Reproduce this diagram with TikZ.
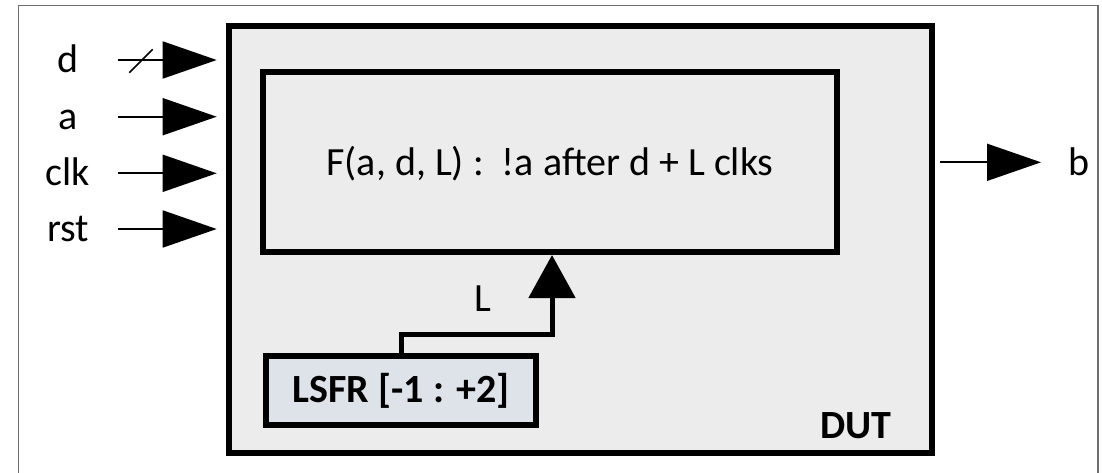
\documentclass[tikz,border=0pt]{standalone}
\usepackage{fontspec}
\setmainfont{Carlito}
\usetikzlibrary{arrows.meta,calc}
\definecolor{dutgray}{HTML}{ECECEC}
\definecolor{lsfrblue}{HTML}{DEE3EA}
\definecolor{framegray}{HTML}{6E6E6E}
\tikzset{
  sig/.style={font=\fontsize{40}{48}\selectfont, anchor=base, inner sep=0pt},
  wire/.style={line width=1.8pt, -{Triangle[length=54pt,width=37pt]}},
  bus/.style={line width=5pt, -{Triangle[length=43pt,width=46pt]}},
  block/.style={draw, line width=6pt, fill=dutgray, inner sep=0pt},
}
\begin{document}
\begin{tikzpicture}[x=1pt,y=-1pt]
\useasboundingbox (0,0) rectangle (1102,472);

% outer frame (open at the bottom edge of the page)
\draw[framegray, line width=1.6pt] (18.3,480) -- (18.3,5.5) -- (1097.7,5.5) -- (1097.7,480);

% design under test and its inner blocks
\node[block, minimum width=703pt, minimum height=427pt] (dut) at (580.5,239.5) {};
\node[block, minimum width=574pt, minimum height=180pt,
      text height=27pt, text depth=0pt,
      font=\fontsize{40}{48}\selectfont] (fbox) at (550,162)
      {F(a, d, L) :\ \ !a after d + L clks};
\node[block, fill=lsfrblue, minimum width=270pt, minimum height=69pt,
      font=\fontsize{40}{48}\selectfont\bfseries] (lsfr) at (401,390.5)
      {LSFR [-1 : +2]};
\node[sig, font=\fontsize{40}{48}\selectfont\bfseries] (dutlbl) at (856,438) {DUT};

% inputs
\foreach \n/\y in {d/60, a/116.7, clk/173.3, rst/229} {
  \node[sig] (lbl-\n) at (68,{\y+12.3}) {\n};
  \coordinate (src-\n) at (117.7,\y);
  \draw[wire, shorten >=9.3pt] (src-\n) -- (src-\n -| dut.west);
}
% bus-width slash on d
\draw[line width=1.6pt] ([shift={(11.6,12.7)}]src-d) -- ([shift={(35,-10.7)}]src-d);

% output
\coordinate (btip) at (1041,162.3);
\draw[wire, shorten <=5pt] (dut.east |- btip) -- (btip);
\node[sig] (lbl-b) at (1078.5,175) {b};

% latency from the LSFR into F
\coordinate (lbend) at (552,334.5);
\draw[bus] (lsfr.north) -- (lsfr.north |- lbend) -- (lbend) -- (fbox.south -| lbend);
\node[sig] (lbl-L) at (483,311.7) {L};
\end{tikzpicture}
\end{document}
